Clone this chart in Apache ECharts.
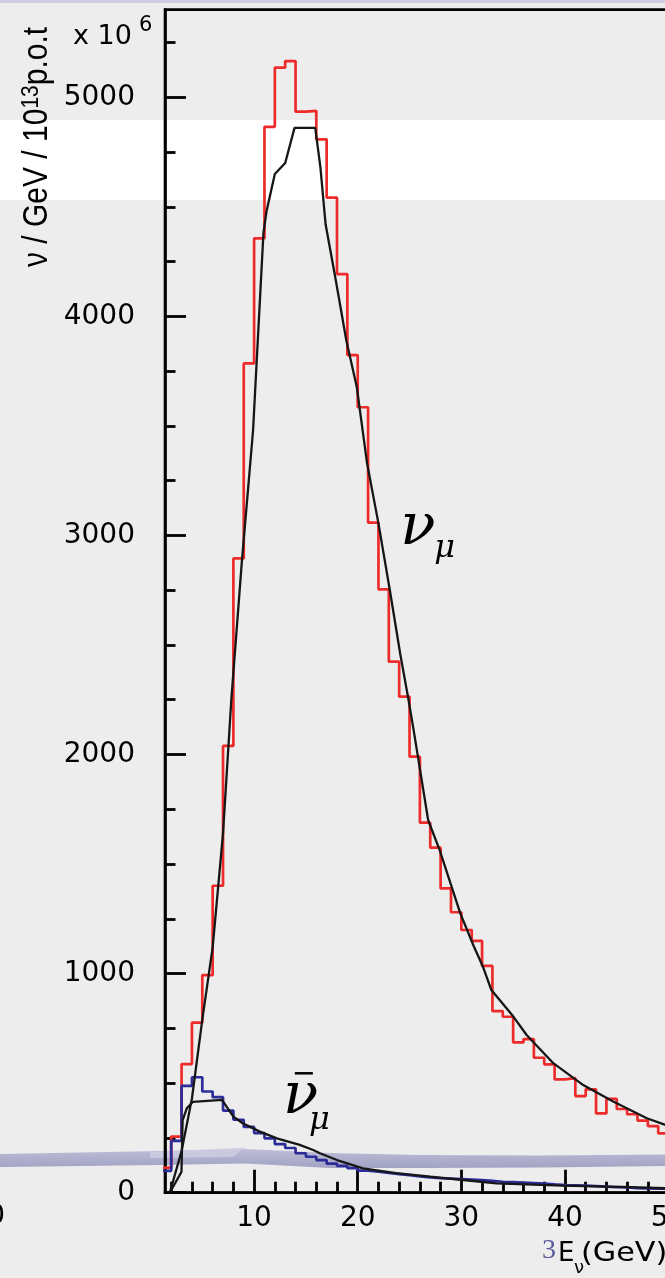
<!DOCTYPE html>
<html>
<head>
<meta charset="utf-8">
<title>Neutrino flux spectra</title>
<script src="https://cdn.jsdelivr.net/npm/echarts@6/dist/echarts.min.js"></script>
<style>
  html, body { margin: 0; padding: 0; background: #ededed; }
  #chart { width: 665px; height: 1278px; }
</style>
</head>
<body>
<div id="chart"></div>
<script>
// Histogram bins: lower edge in GeV, each bin 1 GeV wide
const binLow = [1, 2, 3, 4, 5, 6, 7, 8, 9, 10, 11, 12, 13, 14, 15, 16, 17, 18, 19, 20,
  21, 22, 23, 24, 25, 26, 27, 28, 29, 30, 31, 32, 33, 34, 35, 36, 37, 38, 39, 40,
  41, 42, 43, 44, 45, 46, 47, 48, 49];

// nu_mu flux per bin (x 10^6 nu / GeV / 10^13 p.o.t)
const numuFlux = [114, 256, 587, 776, 993, 1401, 2039, 2895, 3785, 4356,
  4865, 5135, 5165, 4934, 4938, 4808, 4542, 4193, 3823, 3585,
  3058, 2754, 2424, 2264, 1990, 1689, 1575, 1389, 1280, 1199,
  1149, 1035, 829, 803, 686, 701, 616, 586, 517, 523,
  441, 472, 362, 428, 382, 358, 329, 304, 271];

// anti-nu_mu flux per bin
const anumuFlux = [100, 237, 488, 527, 462, 436, 375, 333, 300, 272,
  248, 222, 204, 180, 164, 149, 133, 122, 112, 101,
  96, 90, 85, 80, 74, 70, 66, 64, 62, 60,
  57, 54, 50, 48, 46, 44, 42, 38, 35, 34,
  32, 30, 28, 25, 24, 21, 20, 19, 18];

// Parametrised nu_mu spectrum (energy, flux)
const numuCurveE = [1.86, 3.0, 4.0, 5.0, 6.0, 7.0, 7.8, 8.8, 9.9, 10.4, 10.9, 11.2, 12.0, 13.0,
  13.9, 15.9, 16.4, 16.9, 17.9, 18.9, 19.9, 20.9, 22.0, 23.1, 24.1, 24.9, 25.4, 26.8, 27.9,
  29.9, 31.2, 32.1, 32.9, 35.0, 36.3, 38.9, 41.8, 44.7, 47.9, 49.8];
const numuCurveFlux = [0, 190, 430, 790, 1120, 1640, 2250, 2870, 3480, 3930, 4380, 4480, 4650, 4700,
  4860, 4860, 4680, 4420, 4160, 3890, 3680, 3330, 3055, 2750, 2460, 2250, 2110, 1700, 1565,
  1275, 1125, 1030, 925, 805, 720, 590, 490, 415, 340, 308];

// Parametrised anti-nu_mu spectrum (energy, flux)
const anumuCurveE = [1.86, 2.99, 3.1, 3.5, 4.1, 6.9, 8.0, 8.9, 10.5, 12.2, 14.4, 15.7, 16.35,
  18.0, 20.5, 23.7, 27.0, 30.2, 33.4, 39.8, 46.3, 49.8];
const anumuCurveFlux = [0, 95, 330, 385, 415, 424, 347, 317, 280, 248, 218, 195, 180,
  149, 111, 89, 73, 58, 43, 32, 25, 20];

// Axis ticks
const xMajorTicks = [10, 20, 30, 40, 50];
const xMinorTicks = [2, 4, 6, 8, 12, 14, 16, 18, 22, 24, 26, 28, 32, 34, 36, 38, 42, 44, 46, 48];
const yMajorTicks = [0, 1000, 2000, 3000, 4000, 5000];
const yMinorTicks = [250, 500, 750, 1250, 1500, 1750, 2250, 2500, 2750, 3250, 3500, 3750,
  4250, 4500, 4750, 5250];

// Label anchors in data coordinates (energy, flux)
const numuLabelNu = [25.8, 3030];
const numuLabelMu = [28.4, 2940];
const anumuLabelNu = [14.5, 434];
const anumuLabelMu = [16.3, 330];
const anumuBar = [[13.93, 545], [15.67, 545]];

// Turn per-bin values into an outline of horizontal and vertical steps
function stepOutline(lows, values) {
  const pts = [];
  lows.forEach((lo, i) => {
    pts.push([lo, values[i]]);
    pts.push([lo + 1, values[i]]);
  });
  return pts;
}
function zipCurve(xs, ys) {
  return xs.map((x, i) => [x, ys[i]]);
}

const SANS = 'DejaVu Sans';
const axisLineStyle = { color: '#000', width: 2.6 };
const tickStyle = { color: '#000', width: 2.8 };
const plain = (v) => String(v);

const option = {
  animation: false,
  backgroundColor: 'transparent',
  grid: {
    left: 165, top: 9.6, right: -24.3, bottom: 85.3,
    show: true, borderColor: '#000', borderWidth: 2.6,
    backgroundColor: 'transparent',
    containLabel: false, outerBoundsMode: 'none'
  },
  xAxis: [
    {
      type: 'value', min: 1.4, max: 52, position: 'bottom',
      axisLine: { show: true, onZero: false, lineStyle: axisLineStyle },
      axisTick: { show: true, inside: true, length: 23, customValues: xMajorTicks, lineStyle: tickStyle },
      axisLabel: { customValues: xMajorTicks, formatter: plain, margin: 12, fontSize: 28, lineHeight: 28, fontFamily: SANS, color: '#000' },
      splitLine: { show: false }
    },
    {
      type: 'value', min: 1.4, max: 52, position: 'bottom',
      axisLine: { show: false },
      axisTick: { show: true, inside: true, length: 11, customValues: xMinorTicks, lineStyle: tickStyle },
      axisLabel: { show: false },
      splitLine: { show: false }
    }
  ],
  yAxis: [
    {
      type: 'value', min: 0, max: 5400, position: 'left',
      axisLine: { show: true, onZero: false, lineStyle: axisLineStyle },
      axisTick: { show: true, inside: true, length: 21, customValues: yMajorTicks, lineStyle: tickStyle },
      axisLabel: { customValues: yMajorTicks, formatter: plain, margin: 30, fontSize: 28, fontFamily: SANS, color: '#000' },
      splitLine: { show: false }
    },
    {
      type: 'value', min: 0, max: 5400, position: 'left',
      axisLine: { show: false },
      axisTick: { show: true, inside: true, length: 10.5, customValues: yMinorTicks, lineStyle: tickStyle },
      axisLabel: { show: false },
      splitLine: { show: false }
    }
  ],
  series: [
    {
      name: 'numu histogram', type: 'line', xAxisIndex: 0, yAxisIndex: 0,
      data: stepOutline(binLow, numuFlux), showSymbol: false, clip: true,
      lineStyle: { color: '#ee2b2b', width: 2.7 }, z: 3
    },
    {
      name: 'anumu histogram', type: 'line', xAxisIndex: 0, yAxisIndex: 0,
      data: stepOutline(binLow, anumuFlux), showSymbol: false, clip: true,
      lineStyle: { color: '#2c2c98', width: 2.7 }, z: 3
    },
    {
      name: 'numu curve', type: 'line', xAxisIndex: 0, yAxisIndex: 0,
      data: zipCurve(numuCurveE, numuCurveFlux), showSymbol: false, clip: true,
      lineStyle: { color: '#161616', width: 2.3 }, z: 4
    },
    {
      name: 'anumu curve', type: 'line', xAxisIndex: 0, yAxisIndex: 0,
      data: zipCurve(anumuCurveE, anumuCurveFlux), showSymbol: false, clip: true,
      lineStyle: { color: '#161616', width: 2.3 }, z: 4
    }
  ]
};

const chart = echarts.init(document.getElementById('chart'), null, { renderer: 'canvas' });
chart.setOption(option);

const toPx = (pt) => chart.convertToPixel({ xAxisIndex: 0, yAxisIndex: 0 }, pt);
const greekFont = 'italic 58px "DejaVu Serif"';
const muFont = 'italic 32px "DejaVu Serif"';

const nuTop = toPx(numuLabelNu), muTop = toPx(numuLabelMu);
const nuBot = toPx(anumuLabelNu), muBot = toPx(anumuLabelMu);
const barA = toPx(anumuBar[0]), barB = toPx(anumuBar[1]);

chart.setOption({
  graphic: [
    // slide backdrop: white band and lavender swoosh
    { type: 'rect', z: -20, shape: { x: 0, y: 120, width: 665, height: 80 }, style: { fill: '#ffffff' } },
    { type: 'rect', z: -20, shape: { x: 0, y: 0, width: 665, height: 3 }, style: { fill: 'rgba(150,150,205,0.35)' } },
    {
      type: 'polygon', z: -19,
      shape: { points: [[0, 1154], [80, 1152.5], [160, 1151], [245, 1149], [330, 1153], [420, 1155],
        [540, 1155.5], [665, 1154.5], [665, 1166], [540, 1167.5], [420, 1168], [330, 1168],
        [245, 1163.5], [160, 1165], [80, 1166], [0, 1167]] },
      style: {
        fill: new echarts.graphic.LinearGradient(0, 0, 0, 1, [
          { offset: 0, color: '#bdbdd7' }, { offset: 1, color: '#a2a2c4' }
        ])
      }
    },
    { type: 'polygon', z: -18, shape: { points: [[150, 1152], [245, 1147.5], [233, 1157], [150, 1158]] },
      style: { fill: 'rgba(205,205,226,0.8)' } },

    // multiplier above the value axis
    { type: 'text', z: 10, x: 73, y: 37, style: { text: 'x 10', font: '27px "DejaVu Sans"', fill: '#000', align: 'left', verticalAlign: 'middle' } },
    { type: 'text', z: 10, x: 139, y: 25.5, style: { text: '6', font: '21px "DejaVu Sans"', fill: '#000', align: 'left', verticalAlign: 'middle' } },

    // value axis title, read bottom to top
    {
      type: 'text', z: 10, x: 37, y: 267, rotation: Math.PI / 2, scaleY: 1.15,
      style: {
        text: 'ν / GeV / 10{s|13}p.o.t',
        font: '30px "Liberation Sans"', fill: '#000', align: 'left', verticalAlign: 'middle',
        rich: { s: { fontSize: 21, fontFamily: 'Liberation Sans', verticalAlign: 'top', fill: '#000' } }
      }
    },

    // energy axis title
    { type: 'text', z: 10, x: 558, y: 1254, style: { text: 'E', font: '26px "DejaVu Sans"', fill: '#000', align: 'left', verticalAlign: 'middle' } },
    { type: 'text', z: 10, x: 574, y: 1268, style: { text: 'ν', font: '18px "DejaVu Sans"', fill: '#000', align: 'left', verticalAlign: 'middle' } },
    { type: 'text', z: 10, x: 581, y: 1254, scaleX: 1.12, style: { text: '(GeV)', font: '27px "DejaVu Sans"', fill: '#000', align: 'left', verticalAlign: 'middle' } },

    // page number
    { type: 'text', z: 10, x: 542, y: 1251, style: { text: '3', font: '28px "Liberation Serif"', fill: '#5a5a9c', align: 'left', verticalAlign: 'middle' } },
    // edge of the neighbouring panel's tick label
    { type: 'text', z: 10, x: 5, y: 1217, style: { text: '0', font: '28px "DejaVu Sans"', fill: '#000', align: 'right', verticalAlign: 'middle' } },

    // curve labels
    { type: 'text', z: 10, x: nuTop[0], y: nuTop[1], style: { text: 'ν', font: greekFont, fill: '#000', align: 'center', verticalAlign: 'middle' } },
    { type: 'text', z: 10, x: muTop[0], y: muTop[1], style: { text: 'μ', font: muFont, fill: '#000', align: 'center', verticalAlign: 'middle' } },
    { type: 'text', z: 10, x: nuBot[0], y: nuBot[1], style: { text: 'ν', font: greekFont, fill: '#000', align: 'center', verticalAlign: 'middle' } },
    { type: 'text', z: 10, x: muBot[0], y: muBot[1], style: { text: 'μ', font: muFont, fill: '#000', align: 'center', verticalAlign: 'middle' } },
    { type: 'line', z: 10, shape: { x1: barA[0], y1: barA[1], x2: barB[0], y2: barB[1] }, style: { stroke: '#000', lineWidth: 2.5 } }
  ]
});
</script>
</body>
</html>
